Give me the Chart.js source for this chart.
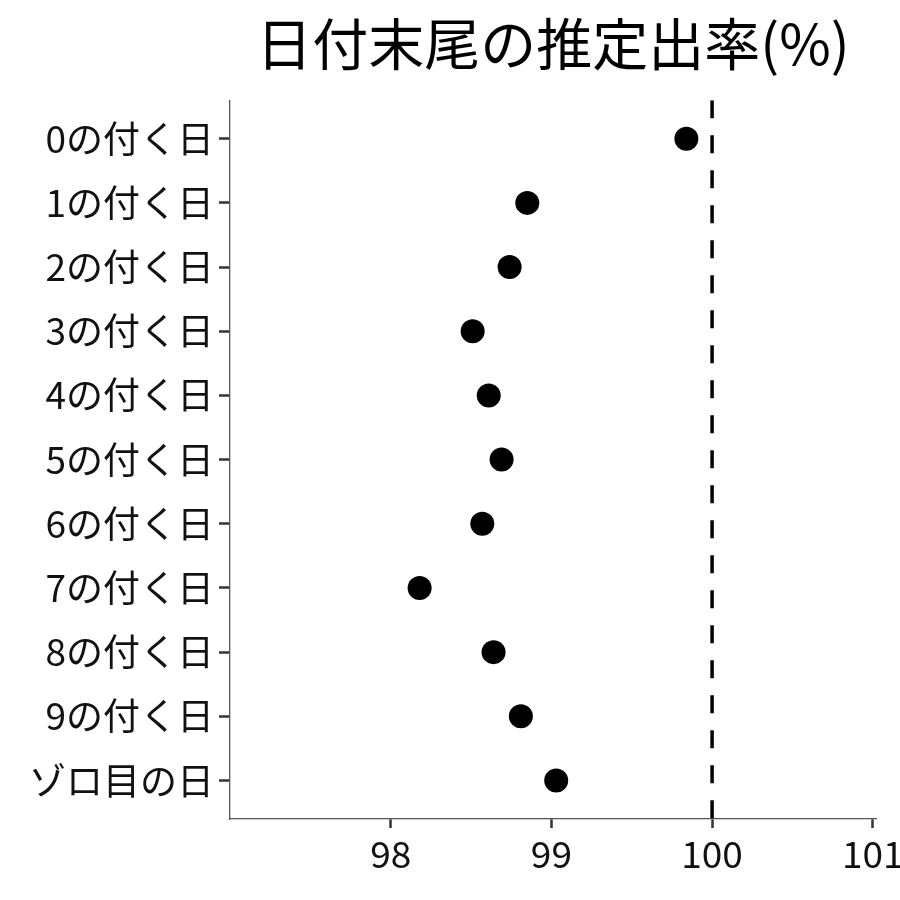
<!DOCTYPE html>
<html>
<head>
<meta charset="utf-8">
<script src="https://cdn.jsdelivr.net/npm/chart.js@4/dist/chart.umd.min.js"></script>
<style>
  html, body { margin: 0; padding: 0; background: #fff; }
  #wrap { width: 900px; height: 900px; }
</style>
</head>
<body>
<div id="wrap"><canvas id="grafico"></canvas></div>
<script>
const rotulos = ['0の付く日', '1の付く日', '2の付く日', '3の付く日', '4の付く日', '5の付く日',
    '6の付く日', '7の付く日', '8の付く日', '9の付く日', 'ゾロ目の日'];
const taxas = [99.84, 98.85, 98.74, 98.51, 98.61, 98.69, 98.57, 98.18, 98.64, 98.81, 99.03];
const ticksX = [98, 99, 100, 101];
const referencia = 100;

const fonte = '"Noto Sans CJK JP", "Noto Sans", sans-serif';

const pontos = taxas.map((v, i) => ({ x: v, y: i }));

new Chart(document.getElementById('grafico').getContext('2d'), {
    type: 'scatter',
    data: {
        datasets: [
            {
                data: pontos,
                backgroundColor: '#000',
                borderColor: '#000',
                pointRadius: 12,
                pointHoverRadius: 12,
                borderWidth: 0
            },
            {
                type: 'line',
                data: [{ x: referencia, y: -0.6 }, { x: referencia, y: 10.6 }],
                borderColor: '#000',
                borderWidth: 3.5,
                borderDash: [18, 17],
                pointRadius: 0,
                fill: false
            }
        ]
    },
    options: {
        responsive: true,
        maintainAspectRatio: false,
        animation: false,
        layout: { padding: { right: 24, bottom: 0 } },
        plugins: {
            legend: { display: false },
            tooltip: { enabled: false },
            title: {
                display: true,
                fullSize: false,
                text: '日付末尾の推定出率(%)',
                color: '#000',
                font: { family: fonte, size: 56, weight: 'normal' },
                padding: { top: 10, bottom: 23 }
            }
        },
        scales: {
            x: {
                type: 'linear',
                min: 97,
                max: 101.02,
                afterBuildTicks(scale) {
                    scale.ticks = ticksX.map(v => ({ value: v }));
                },
                afterFit(scale) {
                    scale.height = 81;
                    // o rótulo 101 pode passar da borda, como no original
                    scale.paddingRight = 0;
                },
                border: { display: true, color: '#555', width: 1.3 },
                grid: {
                    drawOnChartArea: false,
                    tickLength: 9,
                    tickColor: '#333',
                    tickWidth: 2.5
                },
                ticks: {
                    color: '#111',
                    padding: 4,
                    maxRotation: 0,
                    font: { family: fonte, size: 37 },
                    callback: v => String(v)
                }
            },
            y: {
                type: 'linear',
                min: -0.6,
                max: 10.6,
                reverse: true,
                afterBuildTicks(scale) {
                    scale.ticks = rotulos.map((_, i) => ({ value: i }));
                },
                afterFit(scale) {
                    scale.width = 230;
                },
                border: { display: true, color: '#555', width: 1.3 },
                grid: {
                    drawOnChartArea: false,
                    tickLength: 11,
                    tickColor: '#333',
                    tickWidth: 2.5
                },
                ticks: {
                    color: '#111',
                    padding: 5,
                    font: { family: fonte, size: 37 },
                    callback: v => rotulos[v] ?? ''
                }
            }
        }
    }
});
</script>
</body>
</html>
